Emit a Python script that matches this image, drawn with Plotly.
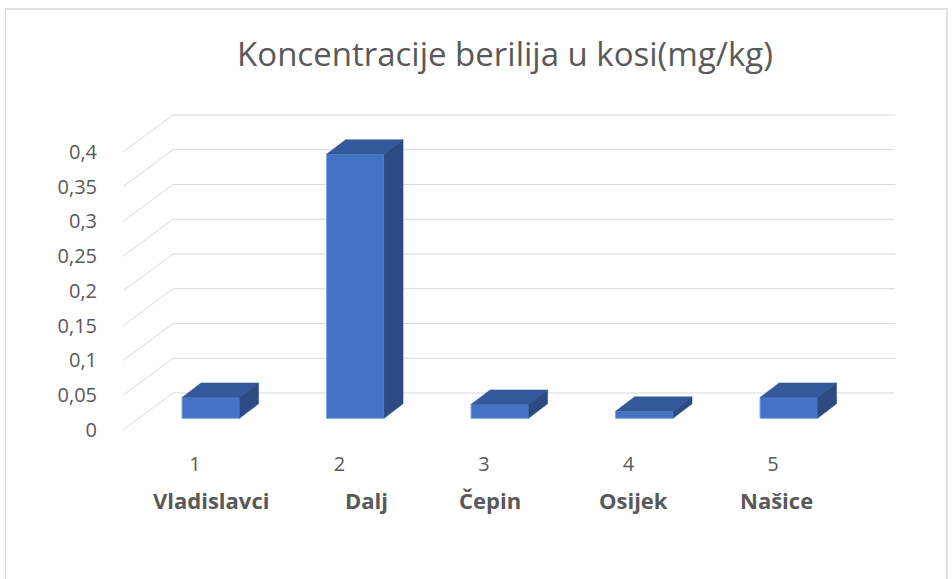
import plotly.graph_objects as go

# ---------------- data ----------------
categories = ["Vladislavci", "Dalj", "Čepin", "Osijek", "Našice"]
numbers = ["1", "2", "3", "4", "5"]
values = [0.03, 0.38, 0.02, 0.01, 0.03]
y_ticks = [0, 0.05, 0.1, 0.15, 0.2, 0.25, 0.3, 0.35, 0.4]
y_tick_labels = ["0", "0,05", "0,1", "0,15", "0,2", "0,25", "0,3", "0,35", "0,4"]
title_text = "Koncentracije berilija u kosi(mg/kg)"

# ---------------- geometry (pseudo-3D, in axis units) ----------------
PX_X = 144.5     # px per category
PX_Y = 695.0     # px per value unit
X_MIN, X_MAX = 0.3924, 0.3924 + 772 / PX_X
Y_MIN, Y_MAX = -21.7 / PX_Y, 318.3 / PX_Y
BAR_W = 57.5 / PX_X
BAR_DX, BAR_DY = 19 / PX_X, 14.5 / PX_Y          # bar depth
WALL_DX, WALL_DY = 50 / PX_X, 37 / PX_Y          # floor depth
FRAC = 0.316                                      # bar plane position in depth
FRONT_DX, FRONT_DY = -FRAC * WALL_DX, -FRAC * WALL_DY
BACK_DX, BACK_DY = (1 - FRAC) * WALL_DX, (1 - FRAC) * WALL_DY

FRONT_C = "#4472C4"
TOP_C = "#33599A"
SIDE_C = "#2B4B82"
EDGE_C = "#79A6E6"
TEXT_C = "#595959"
GRID_C = "#D9D9D9"
FONT = "Open Sans"

xs = list(range(1, len(values) + 1))

fig = go.Figure()

# front faces
fig.add_trace(go.Bar(
    x=xs, y=values, width=BAR_W,
    marker=dict(color=FRONT_C, line=dict(color=EDGE_C, width=1)),
    hoverinfo="x+y", showlegend=False,
))

# top and side faces
for x, v in zip(xs, values):
    l, r = x - BAR_W / 2, x + BAR_W / 2
    fig.add_trace(go.Scatter(
        x=[l, l + BAR_DX, r + BAR_DX, r, l],
        y=[v, v + BAR_DY, v + BAR_DY, v, v],
        fill="toself", fillcolor=TOP_C, mode="lines",
        line=dict(color=TOP_C, width=0.5),
        hoverinfo="skip", showlegend=False,
    ))
    fig.add_trace(go.Scatter(
        x=[r, r, r + BAR_DX, r + BAR_DX, r],
        y=[0, v, v + BAR_DY, BAR_DY, 0],
        fill="toself", fillcolor=SIDE_C, mode="lines",
        line=dict(color=SIDE_C, width=0.5),
        hoverinfo="skip", showlegend=False,
    ))

# back-wall gridlines and side floor diagonals
shapes = []
for v in y_ticks:
    shapes.append(dict(
        type="line", xref="x", yref="y", layer="below",
        x0=X_MIN + WALL_DX, x1=X_MAX, y0=v + BACK_DY, y1=v + BACK_DY,
        line=dict(color=GRID_C, width=1),
    ))
    shapes.append(dict(
        type="line", xref="x", yref="y", layer="below",
        x0=X_MIN, x1=X_MIN + WALL_DX, y0=v + FRONT_DY, y1=v + BACK_DY,
        line=dict(color=GRID_C, width=1),
    ))

# chart border
shapes.append(dict(
    type="rect", xref="paper", yref="paper", layer="above",
    x0=(5.5 - 123) / 772, x1=(947 - 123) / 772,
    y0=(440 - 620) / 340, y1=(440 - 9) / 340,
    line=dict(color="#D9D9D9", width=1.5), fillcolor="rgba(0,0,0,0)",
))

# category names (second label row)
name_nudge = [0, 11, -10, -11, -12]
annotations = []
for x, name, dxp in zip(xs, categories, name_nudge):
    annotations.append(dict(
        x=x, y=(440 - 500) / 340, xref="x", yref="paper",
        text="<b>" + name + "</b>", showarrow=False,
        xanchor="center", yanchor="middle", xshift=dxp,
        font=dict(family=FONT, size=22, color=TEXT_C),
    ))

fig.update_layout(
    width=952, height=579,
    margin=dict(l=123, r=57, t=100, b=139),
    paper_bgcolor="white", plot_bgcolor="white",
    title=dict(
        text=title_text, x=505 / 952, xanchor="center", xref="container",
        y=1 - 54 / 579, yanchor="middle", yref="container",
        font=dict(family=FONT, size=33, color=TEXT_C),
    ),
    xaxis=dict(
        range=[X_MIN, X_MAX], showgrid=False, zeroline=False, showline=False,
        tickvals=[x + FRONT_DX for x in xs], ticktext=numbers, ticks="",
        ticklabelstandoff=10,
        tickfont=dict(family=FONT, size=20, color=TEXT_C),
    ),
    yaxis=dict(
        range=[Y_MIN, Y_MAX], showgrid=False, zeroline=False, showline=False,
        tickvals=[v + FRONT_DY for v in y_ticks], ticktext=y_tick_labels, ticks="",
        ticklabelstandoff=25,
        tickfont=dict(family=FONT, size=20, color=TEXT_C),
    ),
    shapes=shapes,
    annotations=annotations,
    showlegend=False,
)

fig.write_html(
    "out.html",
    config={"displayModeBar": False},
    post_script="document.body.style.margin='0';document.body.style.overflow='hidden';",
)
